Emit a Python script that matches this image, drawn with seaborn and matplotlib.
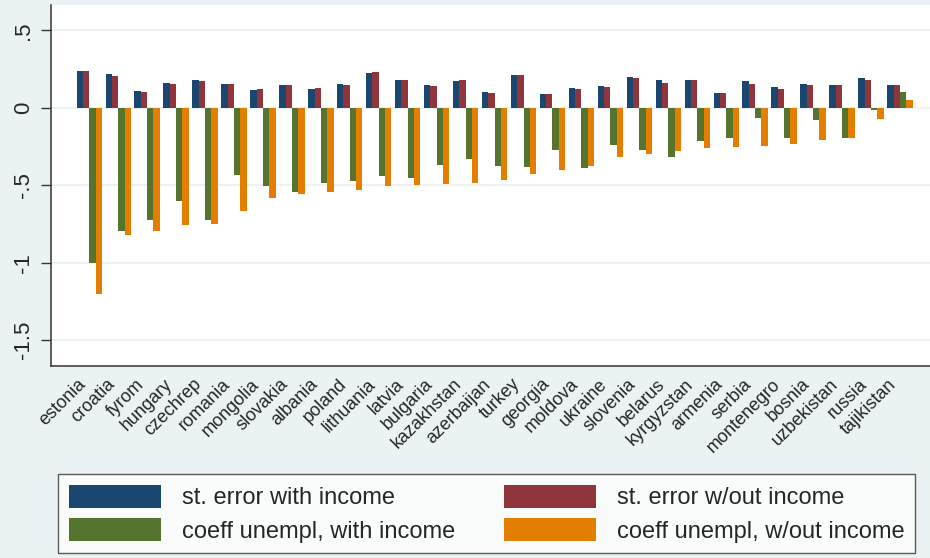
import numpy as np
import pandas as pd
import seaborn as sns
import matplotlib.pyplot as plt
from matplotlib.patches import Patch

# Country order (sorted by the unemployment coefficient without income)
countries = ["estonia", "croatia", "fyrom", "hungary", "czechrep", "romania",
             "mongolia", "slovakia", "albania", "poland", "lithuania", "latvia",
             "bulgaria", "kazakhstan", "azerbaijan", "turkey", "georgia",
             "moldova", "ukraine", "slovenia", "belarus", "kyrgyzstan",
             "armenia", "serbia", "montenegro", "bosnia", "uzbekistan",
             "russia", "tajikistan"]

se_with_income = [0.235, 0.218, 0.110, 0.160, 0.179, 0.152, 0.117, 0.147, 0.121,
                  0.154, 0.225, 0.181, 0.149, 0.175, 0.102, 0.212, 0.089, 0.128,
                  0.141, 0.199, 0.179, 0.179, 0.095, 0.175, 0.132, 0.154, 0.149,
                  0.190, 0.147]
se_without_income = [0.235, 0.203, 0.102, 0.152, 0.175, 0.154, 0.121, 0.147, 0.126,
                     0.147, 0.233, 0.181, 0.143, 0.179, 0.095, 0.212, 0.089, 0.121,
                     0.134, 0.194, 0.160, 0.177, 0.095, 0.154, 0.123, 0.145, 0.147,
                     0.181, 0.147]
coef_with_income = [-1.000, -0.795, -0.722, -0.601, -0.724, -0.434, -0.502, -0.541,
                    -0.483, -0.474, -0.438, -0.453, -0.367, -0.332, -0.373, -0.380,
                    -0.270, -0.386, -0.238, -0.274, -0.317, -0.212, -0.193, -0.066,
                    -0.193, -0.077, -0.193, -0.016, 0.102]
coef_without_income = [-1.200, -0.819, -0.793, -0.754, -0.748, -0.664, -0.582, -0.554,
                       -0.545, -0.528, -0.505, -0.496, -0.492, -0.483, -0.464, -0.427,
                       -0.401, -0.373, -0.317, -0.296, -0.279, -0.257, -0.251, -0.244,
                       -0.231, -0.208, -0.193, -0.072, 0.048]

series_names = ["st. error with income", "st. error w/out income",
                "coeff unempl, with income", "coeff unempl, w/out income"]
series_colors = ["#1a476f", "#90353b", "#55752f", "#e37e00"]

yticks = [0.5, 0, -0.5, -1, -1.5]
ytick_labels = [".5", "0", "-.5", "-1", "-1.5"]

wide = pd.DataFrame({
    "country": countries,
    series_names[0]: se_with_income,
    series_names[1]: se_without_income,
    series_names[2]: coef_with_income,
    series_names[3]: coef_without_income,
})
long = wide.melt(id_vars="country", var_name="series", value_name="value")

BG = "#eaf2f3"
sns.set_theme(style="white")
plt.rcParams["font.family"] = ["Liberation Sans", "DejaVu Sans"]

W, H = 930, 558
fig = plt.figure(figsize=(W / 100, H / 100), dpi=100, facecolor=BG)
ax = fig.add_axes([51 / W, 1 - 366 / H, 879 / W, 361 / H])
ax.set_facecolor("white")

sns.barplot(data=long, x="country", y="value", hue="series",
            order=countries, hue_order=series_names,
            palette=series_colors, saturation=1, width=0.875,
            errorbar=None, legend=False, ax=ax,
            edgecolor="none", linewidth=0)

ax.set_xlim(-1.32, len(countries) - 1 + 1.04)
ax.set_ylim(-1.666, 0.663)

ax.set_yticks(yticks)
ax.set_yticklabels(ytick_labels, rotation=90, va="center", fontsize=16)
ax.tick_params(axis="y", length=7, width=1, color="#333333", pad=5, left=True)
ax.tick_params(axis="x", length=0, pad=7)
plt.setp(ax.get_xticklabels(), rotation=45, ha="right", va="top", fontsize=13)

ax.grid(axis="y", color=BG, linewidth=1.4)
ax.grid(axis="x", visible=False)
ax.set_axisbelow(True)
ax.set_xlabel("")
ax.set_ylabel("")

for side in ("top", "right"):
    ax.spines[side].set_visible(False)
for side in ("left", "bottom"):
    ax.spines[side].set_color("#333333")
    ax.spines[side].set_linewidth(1.1)

# Two-column legend below the plot: st. errors on top, coefficients below
handles = [Patch(facecolor=c, edgecolor="none") for c in series_colors]
order = [0, 2, 1, 3]
leg = fig.legend([handles[i] for i in order], [series_names[i] for i in order],
                 ncol=2, loc="upper left", bbox_to_anchor=(58 / W, 1 - 474 / H),
                 fontsize=17, handlelength=3.9, handleheight=1.12,
                 handletextpad=0.89, columnspacing=2.07, labelspacing=0.38,
                 borderpad=0.45, borderaxespad=0, frameon=True, fancybox=False)
leg.get_frame().set_edgecolor("#333333")
leg.get_frame().set_linewidth(1.0)
leg.get_frame().set_facecolor("white")

fig.savefig("out.png", dpi=100, facecolor=BG)
